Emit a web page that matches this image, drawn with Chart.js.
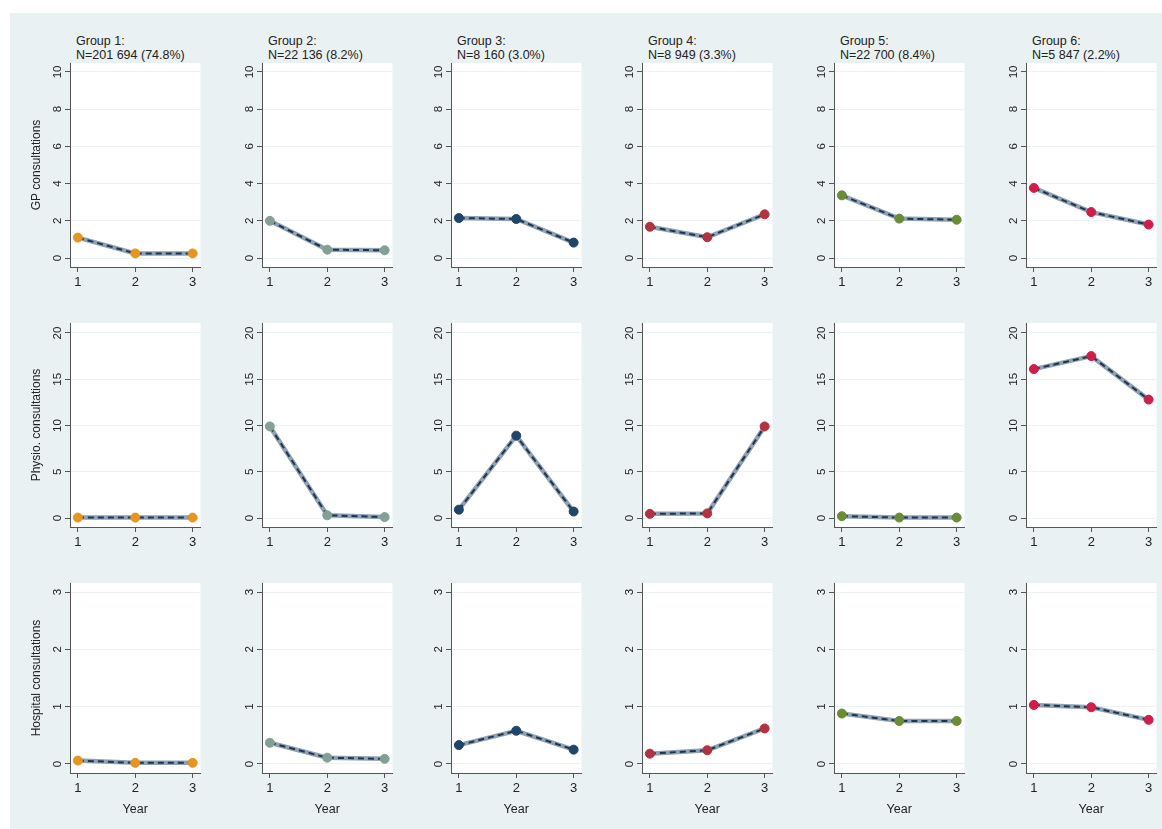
<!DOCTYPE html>
<html lang="en">
<head>
    <meta charset="UTF-8">
    <title>Consultations by group and year</title>
    <style>
        html, body {
            margin: 0;
            padding: 0;
            background: #ffffff;
            overflow: hidden;
            font-family: "Liberation Sans", Arial, sans-serif;
        }

        .frame {
            position: absolute;
            left: 10px;
            top: 13px;
            width: 1152px;
            height: 816px;
            background: #e9f1f2;
        }

        .panel {
            position: absolute;
        }

        .group-title {
            position: absolute;
            font-size: 12.5px;
            line-height: 13.5px;
            color: #222;
            white-space: nowrap;
        }
    </style>
    <script src="https://cdn.jsdelivr.net/npm/chart.js"></script>
</head>
<body>
    <div class="frame"></div>
    <div id="panels"></div>

    <script>
        // data
        const years = [1, 2, 3];
        const groupNames = ["Group 1:", "Group 2:", "Group 3:", "Group 4:", "Group 5:", "Group 6:"];
        const groupSizes = ["N=201 694 (74.8%)", "N=22 136 (8.2%)", "N=8 160 (3.0%)",
                            "N=8 949 (3.3%)", "N=22 700 (8.4%)", "N=5 847 (2.2%)"];
        const groupColors = ["#e8951f", "#84a094", "#1e466a", "#b2323f", "#6a8c37", "#cf1e48"];

        const gpValues = [
            [1.1, 0.25, 0.25],
            [2.0, 0.45, 0.42],
            [2.15, 2.1, 0.83],
            [1.68, 1.12, 2.35],
            [3.37, 2.12, 2.06],
            [3.77, 2.47, 1.8]
        ];
        const physioValues = [
            [0.05, 0.05, 0.05],
            [9.9, 0.3, 0.1],
            [0.9, 8.9, 0.7],
            [0.45, 0.5, 9.9],
            [0.2, 0.05, 0.05],
            [16.1, 17.5, 12.8]
        ];
        const hospitalValues = [
            [0.06, 0.02, 0.02],
            [0.37, 0.11, 0.09],
            [0.33, 0.58, 0.25],
            [0.18, 0.24, 0.62],
            [0.88, 0.75, 0.75],
            [1.03, 0.99, 0.77]
        ];

        const rowTitles = ["GP consultations", "Physio. consultations", "Hospital consultations"];
        const gpTicks = [0, 2, 4, 6, 8, 10];
        const physioTicks = [0, 5, 10, 15, 20];
        const hospitalTicks = [0, 1, 2, 3];

        const rowValues = [gpValues, physioValues, hospitalValues];
        const rowTicks = [gpTicks, physioTicks, hospitalTicks];
        const rowRange = [[-0.48, 10.48], [-0.97, 21.08], [-0.157, 3.157]];

        // layout of the grid (pixels)
        const axisX = [70, 262, 451, 642, 834, 1026];
        const plotTop = [63, 323, 583];
        const plotBottom = [267, 527, 773];
        const plotWidth = 133;
        const yAxisWidth = 45;
        const padTop = 12;
        const padRight = 3;

        const whitePlot = {
            id: "whitePlot",
            beforeDraw(chart) {
                const a = chart.chartArea;
                const ctx = chart.ctx;
                ctx.save();
                ctx.fillStyle = "#ffffff";
                ctx.fillRect(a.left, a.top, a.right - a.left, a.bottom - a.top);
                ctx.restore();
            }
        };

        const holder = document.getElementById("panels");

        // titles above the first row
        groupNames.forEach((name, c) => {
            const t = document.createElement("div");
            t.className = "group-title";
            t.style.left = (axisX[c] + 6) + "px";
            t.style.top = "35px";
            t.innerHTML = name + "<br>" + groupSizes[c];
            holder.appendChild(t);
        });

        for (let r = 0; r < 3; r++) {
            const xHeight = r < 2 ? 28 : 48;
            const h = padTop + (plotBottom[r] - plotTop[r]) + xHeight;
            for (let c = 0; c < 6; c++) {
                const div = document.createElement("div");
                div.className = "panel";
                div.style.left = (axisX[c] - yAxisWidth) + "px";
                div.style.top = (plotTop[r] - padTop) + "px";
                const canvas = document.createElement("canvas");
                canvas.width = yAxisWidth + plotWidth + padRight;
                canvas.height = h;
                div.appendChild(canvas);
                holder.appendChild(div);

                const vals = rowValues[r][c];
                const pts = years.map((y, i) => ({ x: y, y: vals[i] }));

                new Chart(canvas.getContext("2d"), {
                    type: "line",
                    data: {
                        datasets: [
                            {
                                data: pts,
                                showLine: false,
                                pointRadius: 4.5,
                                pointBackgroundColor: groupColors[c],
                                pointBorderColor: groupColors[c],
                                pointBorderWidth: 1,
                                order: 0
                            },
                            {
                                data: pts,
                                borderColor: "#1c3552",
                                borderWidth: 2,
                                borderDash: [6, 4],
                                pointRadius: 0,
                                tension: 0,
                                order: 1
                            },
                            {
                                data: pts,
                                borderColor: "#8fa1b3",
                                borderWidth: 4.5,
                                pointRadius: 0,
                                tension: 0,
                                order: 2
                            }
                        ]
                    },
                    options: {
                        responsive: false,
                        animation: false,
                        devicePixelRatio: 1,
                        layout: { padding: { top: padTop, right: padRight, bottom: 0, left: 0 } },
                        plugins: {
                            legend: { display: false },
                            tooltip: { enabled: false }
                        },
                        scales: {
                            x: {
                                type: "linear",
                                min: 0.863,
                                max: 3.137,
                                afterBuildTicks: (s) => { s.ticks = years.map(v => ({ value: v })); },
                                afterFit: (s) => { s.height = xHeight; },
                                ticks: {
                                    autoSkip: false,
                                    padding: 3,
                                    color: "#222",
                                    font: { family: "Liberation Sans", size: 13 },
                                    callback: (v) => String(v)
                                },
                                grid: { drawOnChartArea: false, tickLength: 5, tickColor: "#555", tickWidth: 1 },
                                border: { color: "#555", width: 1 },
                                title: {
                                    display: r === 2,
                                    text: "Year",
                                    color: "#222",
                                    font: { family: "Liberation Sans", size: 12.5 },
                                    padding: { top: 4, bottom: 4 }
                                }
                            },
                            y: {
                                type: "linear",
                                min: rowRange[r][0],
                                max: rowRange[r][1],
                                afterBuildTicks: (s) => { s.ticks = rowTicks[r].map(v => ({ value: v })); },
                                afterFit: (s) => { s.width = yAxisWidth; },
                                ticks: {
                                    autoSkip: false,
                                    minRotation: 90,
                                    maxRotation: 90,
                                    crossAlign: "center",
                                    padding: r < 2 ? 1 : 4,
                                    color: "#222",
                                    font: { family: "Liberation Sans", size: 11.5 },
                                    callback: (v) => String(v)
                                },
                                grid: { color: "#edf2f3", lineWidth: 1, tickLength: 5, tickColor: "#555", tickWidth: 1 },
                                border: { color: "#555", width: 1 },
                                title: {
                                    display: c === 0,
                                    text: rowTitles[r],
                                    color: "#222",
                                    font: { family: "Liberation Sans", size: 12 },
                                    padding: { top: 4, bottom: 4 }
                                }
                            }
                        }
                    },
                    plugins: [whitePlot]
                });
            }
        }
    </script>
</body>
</html>
